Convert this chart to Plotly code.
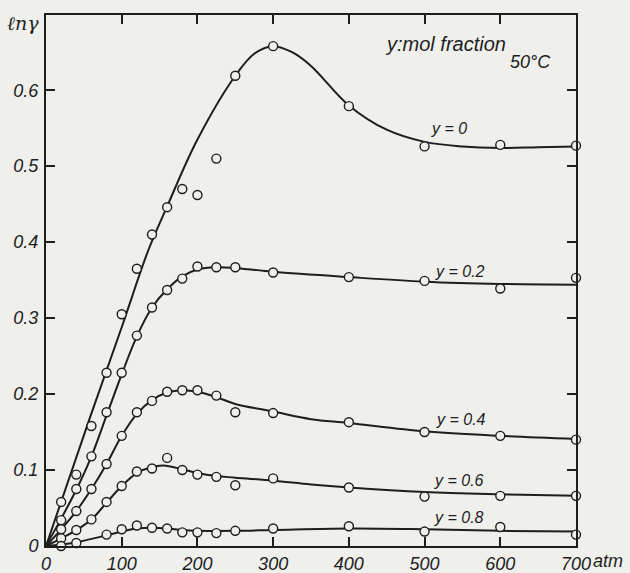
import plotly.graph_objects as go

# ---------------- data ----------------
# measured points (open circles)
x_pts = [20, 40, 60, 80, 100, 120, 140, 160, 180, 200, 225, 250, 300, 400, 500, 600, 700]
y0_pts = [0.058, 0.094, 0.158, 0.228, 0.305, 0.365, 0.410, 0.446, 0.470, 0.462, 0.510, 0.619, 0.658, 0.579, 0.526, 0.528, 0.527]
y02_pts = [0.034, 0.075, 0.118, 0.176, 0.228, 0.277, 0.314, 0.337, 0.352, 0.368, 0.367, 0.367, 0.360, 0.354, 0.349, 0.339, 0.353]
y04_pts = [0.022, 0.046, 0.075, 0.108, 0.145, 0.176, 0.191, 0.203, 0.205, 0.205, 0.198, 0.176, 0.175, 0.163, 0.150, 0.145, 0.140]
y06_pts = [0.010, 0.021, 0.035, 0.058, 0.079, 0.098, 0.102, 0.116, 0.100, 0.094, 0.091, 0.080, 0.089, 0.077, 0.065, 0.066, 0.066]
x08_pts = [20, 40, 80, 100, 120, 140, 160, 180, 200, 225, 250, 300, 400, 500, 600, 700]
y08_pts = [0.000, 0.004, 0.015, 0.022, 0.027, 0.024, 0.023, 0.018, 0.018, 0.017, 0.020, 0.023, 0.026, 0.019, 0.025, 0.015]

# smooth curves
c0_x = [0, 57, 100, 135, 160, 200, 250, 275, 300, 325, 350, 400, 450, 500, 550, 600, 650, 700]
c0_y = [0.0, 0.166, 0.288, 0.389, 0.447, 0.535, 0.619, 0.648, 0.658, 0.650, 0.632, 0.580, 0.548, 0.532, 0.526, 0.524, 0.525, 0.526]
c02_x = [0, 20, 40, 60, 80, 100, 120, 140, 160, 180, 200, 225, 250, 300, 400, 500, 600, 700]
c02_y = [0.0, 0.036, 0.074, 0.118, 0.172, 0.226, 0.276, 0.314, 0.338, 0.355, 0.364, 0.367, 0.366, 0.361, 0.354, 0.348, 0.345, 0.344]
c04_x = [0, 20, 40, 60, 80, 100, 120, 140, 160, 180, 200, 225, 250, 300, 350, 400, 500, 600, 700]
c04_y = [0.0, 0.022, 0.046, 0.075, 0.108, 0.145, 0.174, 0.192, 0.202, 0.205, 0.203, 0.196, 0.187, 0.177, 0.167, 0.162, 0.151, 0.145, 0.141]
c06_x = [0, 20, 40, 60, 80, 100, 120, 140, 155, 180, 200, 225, 250, 300, 350, 400, 500, 600, 700]
c06_y = [0.0, 0.010, 0.021, 0.035, 0.057, 0.079, 0.096, 0.104, 0.106, 0.101, 0.096, 0.092, 0.090, 0.086, 0.081, 0.077, 0.071, 0.068, 0.066]
c08_x = [0, 20, 40, 80, 100, 120, 140, 160, 180, 200, 250, 300, 400, 500, 600, 700]
c08_y = [0.0, 0.002, 0.005, 0.014, 0.019, 0.023, 0.024, 0.023, 0.021, 0.020, 0.020, 0.021, 0.023, 0.022, 0.020, 0.019]

x_ticks = [0, 100, 200, 300, 400, 500, 600, 700]
x_tick_text = ["0", "100", "200", "300", "400", "500", "600", "700"]
y_ticks = [0, 0.1, 0.2, 0.3, 0.4, 0.5, 0.6]
y_tick_text = ["0", "0.1", "0.2", "0.3", "0.4", "0.5", "0.6"]

labels = ["y = 0", "y = 0.2", "y = 0.4", "y = 0.6", "y = 0.8"]
label_x = [532, 547, 548, 545, 545]
label_y = [0.549, 0.362, 0.166, 0.086, 0.038]

# ---------------- figure ----------------
INK = "#1e1e1e"
PAPER = "#efefec"
FONT = "Liberation Sans, Arial, sans-serif"

fig = go.Figure()

curves = [(c0_x, c0_y), (c02_x, c02_y), (c04_x, c04_y), (c06_x, c06_y), (c08_x, c08_y)]
for cx, cy in curves:
    fig.add_trace(go.Scatter(x=cx, y=cy, mode="lines",
                             line=dict(color=INK, width=2, shape="spline", smoothing=1.0),
                             hoverinfo="skip", showlegend=False, cliponaxis=False))

points = [(x_pts, y0_pts), (x_pts, y02_pts), (x_pts, y04_pts), (x_pts, y06_pts), (x08_pts, y08_pts)]
for px, py in points:
    fig.add_trace(go.Scatter(x=px, y=py, mode="markers",
                             marker=dict(symbol="circle", size=9, color=PAPER,
                                         line=dict(color=INK, width=1.4)),
                             showlegend=False, cliponaxis=False))

for t, lx, ly in zip(labels, label_x, label_y):
    fig.add_annotation(x=lx, y=ly, xref="x", yref="y", text=t, showarrow=False,
                       xanchor="center",
                       font=dict(family=FONT, size=16, color=INK, style="italic"))

fig.add_annotation(x=527, y=0.661, xref="x", yref="y", text="y:mol fraction", showarrow=False,
                   xanchor="center",
                   font=dict(family=FONT, size=20, color=INK, style="italic"))
fig.add_annotation(x=640, y=0.637, xref="x", yref="y", text="50°C", showarrow=False,
                   xanchor="center",
                   font=dict(family=FONT, size=18, color=INK, style="italic"))
fig.add_annotation(x=-0.043, y=0.985, xref="paper", yref="paper", text="ℓnγ", showarrow=False,
                   xanchor="center", yanchor="middle",
                   font=dict(family="DejaVu Serif, serif", size=19, color=INK, style="italic"))
fig.add_annotation(x=1.061, y=-0.028, xref="paper", yref="paper", text="atm", showarrow=False,
                   xanchor="center", yanchor="middle",
                   font=dict(family=FONT, size=18, color=INK, style="italic"))

axis_common = dict(showline=True, linewidth=2, linecolor=INK, mirror="ticks",
                   ticks="inside", ticklen=9, tickwidth=1.5, tickcolor=INK,
                   showgrid=False, zeroline=False, automargin=False,
                   tickfont=dict(family=FONT, size=18, color=INK, style="italic"))

fig.update_xaxes(range=[0, 700], tickvals=x_ticks, ticktext=x_tick_text, **axis_common)
fig.update_yaxes(range=[0, 0.699], tickvals=y_ticks, ticktext=y_tick_text,
                 ticklabelstandoff=2, **axis_common)

fig.update_layout(width=630, height=573,
                  margin=dict(l=46, r=54, t=15, b=27),
                  paper_bgcolor=PAPER, plot_bgcolor=PAPER)

fig.write_html(
    "out.html",
    config={"displayModeBar": False},
    post_script="document.body.style.margin='0';document.body.style.background='#efefec';",
)
